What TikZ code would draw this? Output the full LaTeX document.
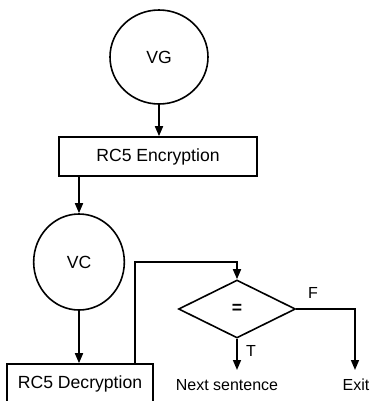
\documentclass[tikz,border=0pt]{standalone}
\usepackage{fontspec}
\setmainfont{Liberation Sans}
\usetikzlibrary{shapes.geometric,arrows.meta}
\begin{document}
\begin{tikzpicture}[x=0.75pt,y=-0.75pt,
  line width=1.2pt,
  conn/.style={-{Triangle[width=6pt,length=7.5pt]}},
  circ/.style={draw,ellipse,inner sep=0pt},
  procbox/.style={draw,rectangle,inner sep=0pt},
  decision/.style={draw,diamond,inner sep=0pt,minimum width=87.75pt,minimum height=43.5pt},
  lbl/.style={font=\fontsize{12}{14}\selectfont},
  every node/.style={font=\fontsize{13.2}{15}\selectfont}
]
\useasboundingbox (0,0) rectangle (369,401);
\node[circ,minimum width=73.5pt,minimum height=70.5pt] (vg) at (159,57) {VG};
\node[procbox,minimum width=148.5pt,minimum height=29.25pt] (enc) at (158,156.5) {RC5 Encryption};
\node[circ,minimum width=68pt,minimum height=72pt] (vc) at (79,262) {VC};
\node[procbox,minimum width=109.5pt,minimum height=30pt] (dec) at (80,384) {RC5 Decryption};
\node[decision] (dia) at (237,309) {\textbf{=}};
\coordinate (bend) at (135,262);
\coordinate (tend) at (237,370);
\coordinate (fturn) at (355,309);
\coordinate (fend) at (355,370);
\draw[conn] (vg.south) -- (vg.south |- enc.north);
\draw[conn] (vc.north |- enc.south) -- (vc.north);
\draw[conn] (vc.south) -- (vc.south |- dec.north);
\draw[conn] (dec.north -| bend) -- (bend) -| (dia.north);
\draw[conn] (dia.south) -- (tend);
\draw[conn] (dia.east) -- (fturn) -- (fend);
\node[lbl,anchor=north] (next) at (227,374) {Next sentence};
\node[lbl,anchor=north] (exit) at (356,374) {Exit};
\node[lbl] (t) at (251,351) {T};
\node[lbl] (f) at (313,293) {F};
\end{tikzpicture}
\end{document}
